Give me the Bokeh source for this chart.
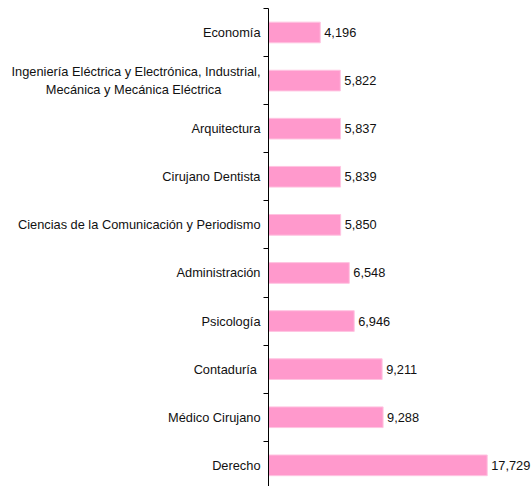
from bokeh.plotting import figure
from bokeh.models import ColumnDataSource, Range1d, FixedTicker, LabelSet
from bokeh.core.properties import value
from bokeh.embed import file_html
from bokeh.resources import INLINE

categories = [
    "Economía",
    "Ingeniería Eléctrica y Electrónica, Industrial,\nMecánica y Mecánica Eléctrica" + "\u00a0" * 11,
    "Arquitectura",
    "Cirujano Dentista",
    "Ciencias de la Comunicación y Periodismo",
    "Administración",
    "Psicología",
    "Contaduría ",
    "Médico Cirujano",
    "Derecho",
]
values = [4196, 5822, 5837, 5839, 5850, 6548, 6946, 9211, 9288, 17729]

positions = list(range(len(categories)))
labels = [f"{v:,}" for v in values]
src = ColumnDataSource(dict(y=positions, v=values, lab=labels))

p = figure(width=532, height=486, output_backend="svg", toolbar_location=None,
           x_range=Range1d(0, 21400), y_range=Range1d(9.44, -0.665),
           min_border_left=268, min_border_right=0, min_border_top=0, min_border_bottom=0)
p.outline_line_color = None
p.grid.visible = False
p.xaxis.visible = False

p.hbar(y="y", right="v", left=0, height=0.43, source=src,
       fill_color="#FF99CC", line_color="#FFC4E1", line_width=1)

p.add_layout(LabelSet(x="v", y="y", text="lab", source=src, x_offset=4,
                      text_baseline="middle", text_font=value("Liberation Sans"),
                      text_font_size=value("12.8px"), text_color="#111111"))

ax = p.yaxis[0]
ax.ticker = FixedTicker(ticks=positions, minor_ticks=[i - 0.5 for i in range(len(categories) + 1)])
ax.major_label_overrides = {i: c for i, c in enumerate(categories)}
ax.bounds = (-0.5, 9.5)
ax.major_tick_out = 0
ax.major_tick_in = 0
ax.minor_tick_out = 5
ax.minor_tick_in = 0
ax.minor_tick_line_color = "black"
ax.axis_line_color = "black"
ax.major_label_standoff = 3
ax.major_label_text_font = "Liberation Sans"
ax.major_label_text_font_size = "12.8px"
ax.major_label_text_color = "#111111"

open("out.html", "w").write(file_html(p, INLINE))
